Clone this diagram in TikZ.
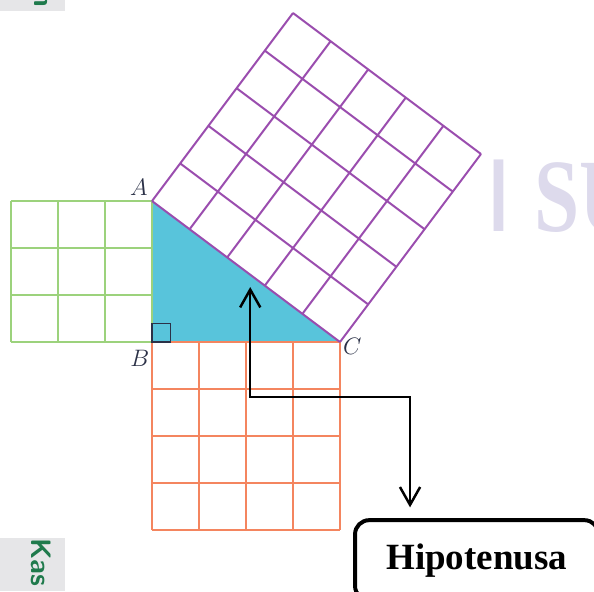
\documentclass[tikz,border=0pt]{standalone}
\usepackage{fontspec}
\newfontfamily\hipofont{Liberation Serif}
\newfontfamily\selsans{Liberation Sans}
\usepackage{xcolor}
\usepackage{tikz}
\usetikzlibrary{arrows.meta, positioning, calc}
\definecolor{verde}{HTML}{9CD27C}
\definecolor{naranja}{HTML}{F4855F}
\definecolor{morado}{HTML}{9A4DAE}
\definecolor{celeste}{HTML}{58C4DB}
\definecolor{tinta}{HTML}{2B3147}
\definecolor{lavanda}{HTML}{DDDAEC}
\definecolor{gris}{HTML}{E6E6E8}
\definecolor{verdeosc}{HTML}{1F7A4C}
\tikzset{
  every picture/.style={>=Stealth},
  rejverde/.style={draw=verde, line width=0.8pt},
  rejnaranja/.style={draw=naranja, line width=0.8pt},
  rejmorado/.style={draw=morado, line width=1.2pt},
  recto/.style={draw=tinta, line width=0.8pt},
  etiq/.style={text=tinta, font=\Large},
  caja/.style={draw=black, line width=2.4pt, rounded corners=0.3cm, fill=white,
               minimum width=5.18cm, minimum height=1.7cm,
               font=\hipofont\bfseries\fontsize{22.4}{26}\selectfont},
  flecha/.style={{Straight Barb[length=0.38cm, width=0.43cm]}-{Straight Barb[length=0.38cm, width=0.43cm]},
                 line width=1.5pt, black},
  marca/.style={text=verdeosc, font=\sffamily\bfseries\fontsize{17}{17}\selectfont},
  agua/.style={text=lavanda, inner sep=0pt, font=\hipofont\bfseries\fontsize{63}{63}\selectfont},
}

\begin{document}
\begin{tikzpicture}
  \useasboundingbox (-3.234,-5.298) rectangle (9.404,7.277);
  % restos del escaneo
  \fill[gris] (-3.234,7.04) rectangle (-1.85,7.277);
  \fill[gris] (-3.234,-5.298) rectangle (-1.85,-4.17);
  \begin{scope}
    \clip (-3.234,7.04) rectangle (-1.85,7.277);
    \node[marca, rotate=-90] (tope) at (-2.37,7.3) {n};
  \end{scope}
  \begin{scope}
    \clip (-3.234,-5.298) rectangle (-1.85,-4.17);
    \node[marca, rotate=-90, anchor=west] (kas) at (-2.37,-4.05) {Kas};
  \end{scope}
  \node[agua, font=\selsans\fontsize{63}{63}\selectfont, anchor=base] (barra) at (7.38,2.36) {I};
  \node[agua, xscale=0.78, anchor=base west] (sello) at (8.13,2.36) {SU};
  % triangulo y cuadrados
  \coordinate (B) at (0,0);
  \coordinate (A) at (0,3);
  \coordinate (C) at (4,0);
  \fill[celeste] (A) -- (B) -- (C) -- cycle;
  \draw[rejverde] (-3,0) grid (0,3);
  \draw[rejnaranja] (0,-4) grid (4,0);
  \begin{scope}[shift={(A)}, rotate=-36.87]
    \draw[rejmorado] (0,0) grid (5,5);
  \end{scope}
  \draw[recto] (B) rectangle (0.4,0.4);
  \node[etiq] (lA) at (-0.28,3.28) {$A$};
  \node[etiq] (lB) at (-0.26,-0.34) {$B$};
  \node[etiq] (lC) at (4.26,-0.1) {$C$};
  % rotulo
  \node[caja] (hipo) at (6.91,-4.64) {Hipotenusa};
  \coordinate (punta) at (2.09,1.17);
  \coordinate (codo) at (5.49,-1.17);
  \draw[flecha] (punta) |- (codo) -- ([yshift=0.23cm]codo |- hipo.north);
\end{tikzpicture}
\end{document}
